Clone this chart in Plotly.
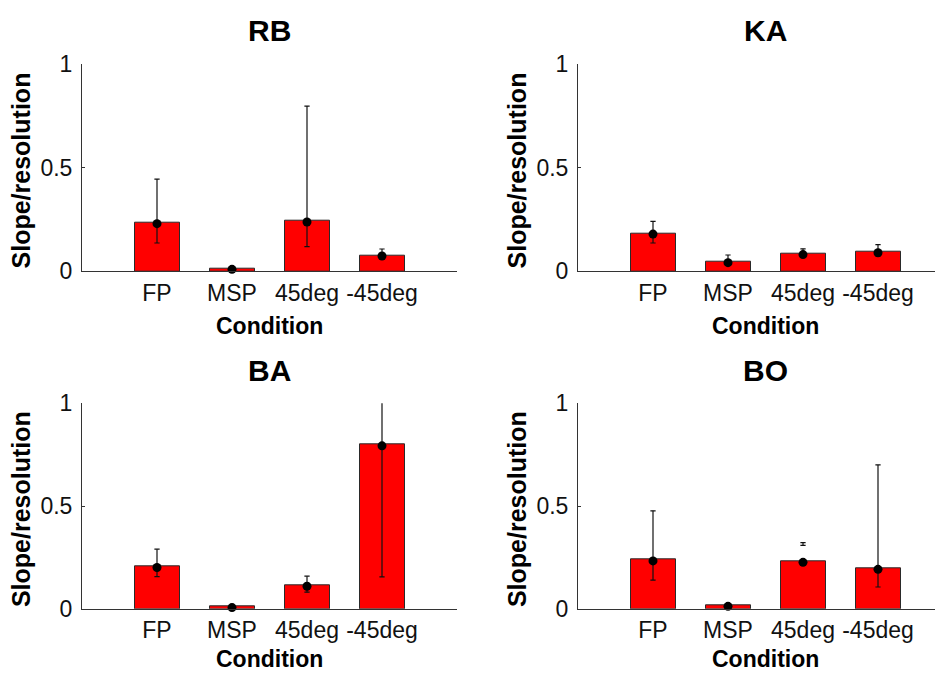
import plotly.graph_objects as go

categories = ["FP", "MSP", "45deg", "-45deg"]
subjects = ["RB", "KA", "BA", "BO"]

rb_bar = [0.234, 0.014, 0.242, 0.077]
rb_dot = [0.229, 0.009, 0.237, 0.073]
rb_lo = [0.136, 0.009, 0.118, 0.066]
rb_hi = [0.444, 0.009, 0.796, 0.107]

ka_bar = [0.183, 0.044, 0.086, 0.094]
ka_dot = [0.179, 0.041, 0.080, 0.089]
ka_lo = [0.136, 0.030, 0.066, 0.074]
ka_hi = [0.240, 0.078, 0.108, 0.128]

ba_bar = [0.207, 0.011, 0.116, 0.801]
ba_dot = [0.201, 0.006, 0.110, 0.793]
ba_lo = [0.157, 0.006, 0.081, 0.155]
ba_hi = [0.290, 0.006, 0.159, 1.050]

bo_bar = [0.239, 0.017, 0.231, 0.195]
bo_dot = [0.233, 0.012, 0.226, 0.192]
bo_lo = [0.140, 0.012, 0.309, 0.106]
bo_hi = [0.477, 0.012, 0.322, 0.700]

bars = [rb_bar, ka_bar, ba_bar, bo_bar]
dots = [rb_dot, ka_dot, ba_dot, bo_dot]
los = [rb_lo, ka_lo, ba_lo, bo_lo]
his = [rb_hi, ka_hi, ba_hi, bo_hi]

FONT = "Liberation Sans, Arial, sans-serif"
AX = "#333333"
OFF = 8  # page body margin offset
W, H = 943 - OFF, 673 - OFF

xpos = list(range(1, len(categories) + 1))

# panel geometry (pixels in the 943x673 window)
x_left = [(82, 457), (578, 943)]
y_rows = [(63.7, 271.2), (403.3, 608.8)]
cond_gap = [55, 50]
unit_px = 75.0


def px(v):
    return (v - OFF) / W


def py(v):
    return 1 - (v - OFF) / H


fig = go.Figure()
annotations = []
layout = {}
cap = 0.035

for i, name in enumerate(subjects):
    r, c = divmod(i, 2)
    idx = "" if i == 0 else str(i + 1)
    xa, ya = "x" + idx, "y" + idx
    x0p, x1p = x_left[c]
    yt, yb = y_rows[r]
    xmax = (x1p - x0p) / unit_px

    fig.add_trace(go.Bar(
        x=xpos, y=bars[i], width=0.6, xaxis=xa, yaxis=ya,
        marker=dict(color="#ff0000", line=dict(color="#2a2a2a", width=1)),
        showlegend=False, hoverinfo="skip"))

    ex, ey = [], []
    for xv, lo, hi in zip(xpos, los[i], his[i]):
        ex += [xv, xv, None, xv - cap, xv + cap, None, xv - cap, xv + cap, None]
        ey += [lo, hi, None, lo, lo, None, hi, hi, None]
    fig.add_trace(go.Scatter(
        x=ex, y=ey, mode="lines", xaxis=xa, yaxis=ya,
        line=dict(color="#111111", width=1.2), showlegend=False, hoverinfo="skip"))

    fig.add_trace(go.Scatter(
        x=xpos, y=dots[i], mode="markers", xaxis=xa, yaxis=ya, cliponaxis=False,
        marker=dict(color="black", size=9), showlegend=False))

    layout["xaxis" + idx] = dict(
        domain=[px(x0p), min(1.0, px(x1p))], range=[0, xmax], anchor=ya,
        automargin=False, tickvals=xpos, ticktext=categories, ticks="",
        showline=True, linecolor=AX, linewidth=1, showgrid=False, zeroline=False,
        tickfont=dict(family=FONT, size=23, color="#111"), ticklabelstandoff=1)
    layout["yaxis" + idx] = dict(
        domain=[py(yb), py(yt)], range=[0, 1], anchor=xa, automargin=False,
        tickvals=[0, 0.5, 1], ticktext=["0", "0.5", "1"], ticks="inside",
        ticklen=3, tickcolor=AX, showline=True, linecolor=AX, linewidth=1,
        showgrid=False, zeroline=False,
        tickfont=dict(family=FONT, size=23, color="#111"), ticklabelstandoff=4)

    yc = (yt + yb) / 2
    annotations.append(dict(
        text=name, x=2.5, xref=xa, y=py(yt - 33), yref="paper",
        showarrow=False, xanchor="center", yanchor="middle",
        font=dict(family=FONT, size=30, color="black", weight="bold")))
    annotations.append(dict(
        text="Condition", x=2.5, xref=xa, y=py(yb + cond_gap[r]), yref="paper",
        showarrow=False, xanchor="center", yanchor="middle",
        font=dict(family=FONT, size=23, color="black", weight="bold")))
    annotations.append(dict(
        text="Slope/resolution", x=px(x0p - 61), xref="paper",
        y=py(yc + 3), yref="paper", textangle=-90,
        showarrow=False, xanchor="center", yanchor="middle",
        font=dict(family=FONT, size=25, color="black", weight="bold")))

fig.update_layout(
    width=W, height=H, margin=dict(l=0, r=0, t=0, b=0, autoexpand=False),
    paper_bgcolor="white", plot_bgcolor="white",
    annotations=annotations, bargap=0, **layout)

fig.write_html("out.html")
